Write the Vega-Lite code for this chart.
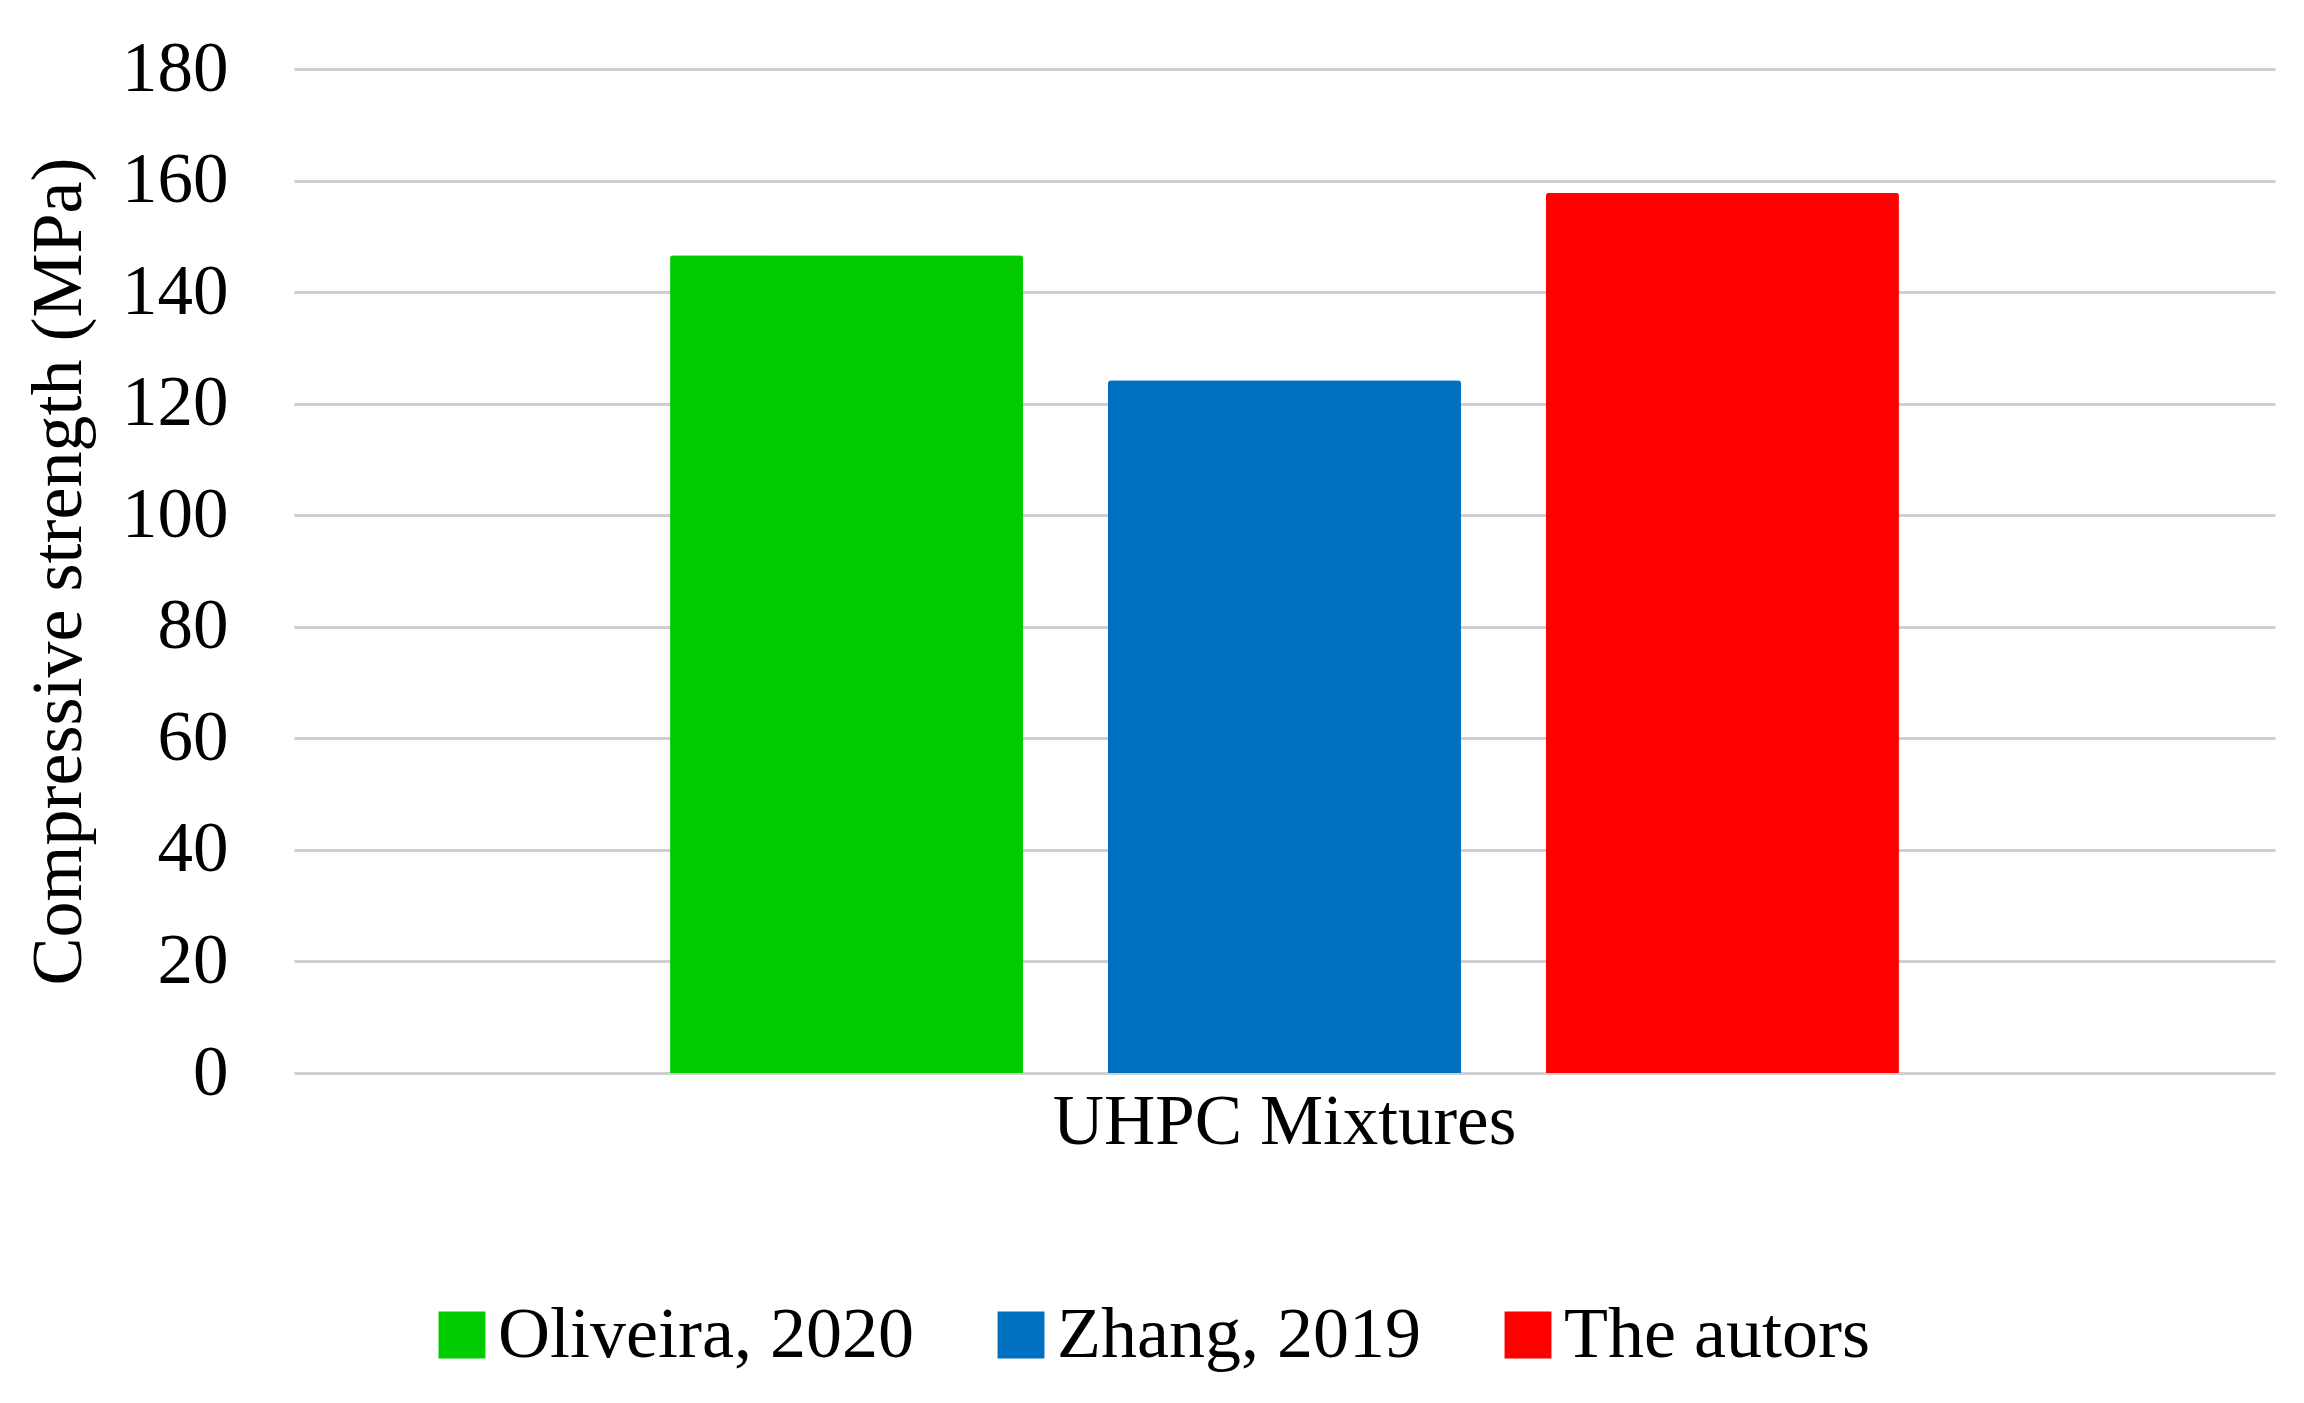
{
  "$schema": "https://vega.github.io/schema/vega-lite/v6.json",
  "autosize": {"type": "none"},
  "width": 1981,
  "height": 1004,
  "padding": {"left": 294, "top": 69, "right": 29, "bottom": 330},
  "background": "white",
  "config": {
    "view": {"stroke": null},
    "font": "Liberation Serif"
  },
  "data": {
    "values": [
      {"group": "UHPC Mixtures", "series": "Oliveira, 2020", "value": 146.6},
      {"group": "UHPC Mixtures", "series": "Zhang, 2019", "value": 124.2},
      {"group": "UHPC Mixtures", "series": "The autors", "value": 157.8}
    ]
  },
  "mark": {"type": "bar", "cornerRadiusTopLeft": 3, "cornerRadiusTopRight": 3},
  "encoding": {
    "x": {
      "field": "group",
      "type": "nominal",
      "title": null,
      "scale": {"paddingInner": 0, "paddingOuter": 0.306},
      "axis": {
        "labelAngle": 0,
        "labelFontSize": 71,
        "labelColor": "#000000",
        "labelPadding": 14,
        "labelLimit": 2000,
        "ticks": false,
        "domain": false,
        "grid": false
      }
    },
    "xOffset": {
      "field": "series",
      "type": "nominal",
      "sort": ["Oliveira, 2020", "Zhang, 2019", "The autors"],
      "scale": {"paddingInner": 0.194, "paddingOuter": 0}
    },
    "y": {
      "field": "value",
      "type": "quantitative",
      "title": "Compressive strength (MPa)",
      "scale": {"domain": [0, 180]},
      "axis": {
        "values": [0, 20, 40, 60, 80, 100, 120, 140, 160, 180],
        "labelFontSize": 71,
        "labelColor": "#000000",
        "labelPadding": 66,
        "ticks": false,
        "domain": false,
        "grid": true,
        "gridColor": "#cfcfcf",
        "gridWidth": 3,
        "titleFontSize": 72,
        "titleFontWeight": "normal",
        "titleColor": "#000000",
        "titlePadding": 26
      }
    },
    "color": {
      "field": "series",
      "type": "nominal",
      "sort": ["Oliveira, 2020", "Zhang, 2019", "The autors"],
      "scale": {
        "domain": ["Oliveira, 2020", "Zhang, 2019", "The autors"],
        "range": ["#00CC00", "#0070C0", "#FF0000"]
      },
      "legend": {
        "title": null,
        "orient": "none",
        "direction": "horizontal",
        "legendX": 132,
        "legendY": 1230,
        "symbolType": "square",
        "symbolSize": 2200,
        "symbolStrokeWidth": 0,
        "labelFontSize": 72,
        "labelColor": "#000000",
        "labelOffset": 0,
        "columnPadding": 71,
        "labelLimit": 1000
      }
    }
  }
}
